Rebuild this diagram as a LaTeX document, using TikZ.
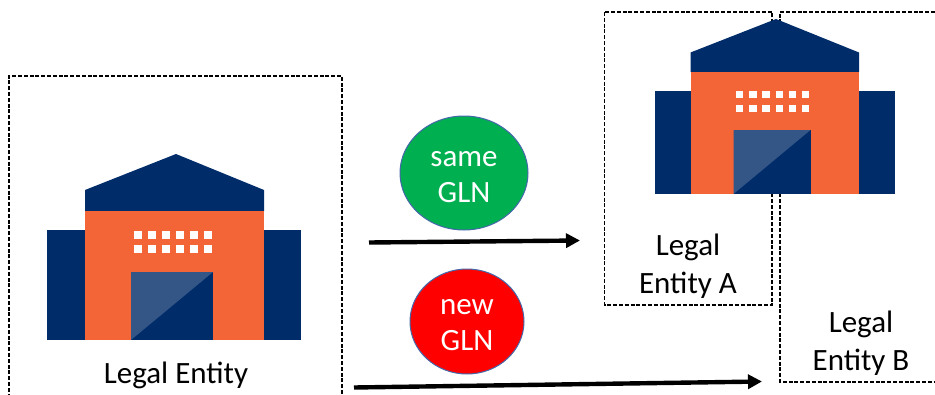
\documentclass[tikz,border=0pt]{standalone}
\usepackage{fontspec}
\setmainfont{Carlito}
\usetikzlibrary{arrows.meta,shapes.geometric}
\definecolor{navy}{RGB}{0,44,106}
\definecolor{brick}{RGB}{243,101,54}
\definecolor{doorlight}{RGB}{51,86,135}
\definecolor{sgreen}{RGB}{0,176,80}
\definecolor{rimblue}{RGB}{68,104,170}
\newcommand{\lowerline}{\rule{0pt}{22.5pt}}
\tikzset{
  x=1pt,y=-1pt,
  frame/.style={draw=black,line width=1.1pt,dash pattern=on 4pt off 1.8pt},
  navyfill/.style={fill=navy,draw=none},
  brickfill/.style={fill=brick,draw=none},
  lightfill/.style={fill=doorlight,draw=none},
  win/.style={fill=white,draw=none},
  label/.style={font=\fontsize{31}{38}\selectfont,align=center,text=black,inner sep=0pt},
  disc/.style={ellipse,draw=rimblue,line width=1pt,font=\fontsize{31}{36}\selectfont,align=center,inner sep=0pt},
  flow/.style={draw=black,line width=4.4pt,-{Triangle[length=14pt,width=14pt]}},
}
\begin{document}
\begin{tikzpicture}
\useasboundingbox (0,0) rectangle (935,394);
% frames
\draw[frame] (342,394) -- (342,76) -- (9,76) -- (9,394);
\draw[frame] (604.5,12) rectangle (772,305);
\draw[frame] (935,12) -- (780,12) -- (780,382) -- (935,382);
% left building
\fill[navyfill] (47,230) rectangle (301,340);
\fill[navyfill] (85,211) -- (85,190) -- (176,154) -- (264,190) -- (264,211) -- cycle;
\fill[brickfill] (85,211) rectangle (264,340);
\fill[navyfill] (131,272) rectangle (213,340);
\fill[lightfill] (131,272) -- (213,272) -- (131,340) -- cycle;
\foreach \c in {0,...,5} \foreach \r in {0,1}
  \fill[win] (133.7+14*\c,230.7+14*\r) rectangle ++(8,8);
% right building
\fill[navyfill] (654.5,90.5) rectangle (894.5,194);
\fill[navyfill] (690.5,72) -- (690.5,52.5) -- (776,19) -- (859,52.5) -- (859,72) -- cycle;
\fill[brickfill] (690.5,72) rectangle (859,194);
\fill[navyfill] (733.5,130) rectangle (810.5,194);
\fill[lightfill] (733.5,130) -- (810.5,130) -- (733.5,194) -- cycle;
\foreach \c in {0,...,5} \foreach \r in {0,1}
  \fill[win] (736+13.2*\c,91+13.7*\r) rectangle ++(7.4,7.4);
% labels
\node[label] (le) at (176,375) {Legal Entity};
\node[label] (lea) at (688,266) {Legal\\Entity A};
\node[label] (leb) at (861,343) {Legal\\Entity B};
% discs
\node[disc,fill=sgreen,text=white,minimum width=128pt,minimum height=114pt] (same) at (464,173) {\lowerline same\\GLN};
\node[disc,fill=red,text=white,minimum width=114pt,minimum height=105pt] (new) at (467,321.5) {\lowerline new\\GLN};
% arrows
\coordinate (a1) at (369,242.5);
\coordinate (a2) at (580,240.5);
\coordinate (b1) at (354,387.5);
\coordinate (b2) at (762,381.5);
\draw[flow] (a1) -- (a2);
\draw[flow] (b1) -- (b2);
\end{tikzpicture}
\end{document}
